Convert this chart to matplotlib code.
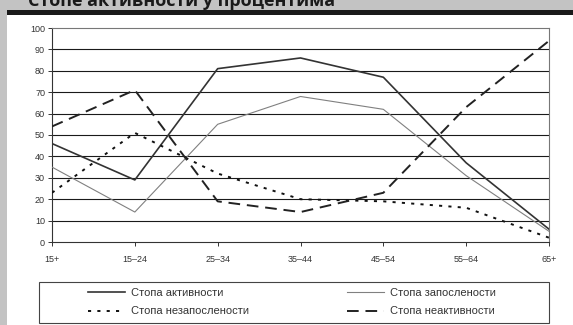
import matplotlib.pyplot as plt
from matplotlib.patches import Rectangle
from matplotlib.lines import Line2D

plt.rcParams['font.family'] = ['Liberation Sans', 'DejaVu Sans']

# age groups and rates (%)
groups = ['15+', '15–24', '25–34', '35–44', '45–54', '55–64', '65+']
activity = [46, 29, 81, 86, 77, 37, 6]
employment = [35, 14, 55, 68, 62, 31, 5]
unemployment = [23, 51, 32, 20, 19, 16, 2]
inactivity = [54, 71, 19, 14, 23, 63, 94]

labels = ['Стопа активности', 'Стопа запослености',
          'Стопа незапослености', 'Стопа неактивности']

W, H = 573, 325
fig = plt.figure(figsize=(W / 100, H / 100), dpi=100, facecolor='#c3c3c3')

def fx(px):
    return px / W

def fy(py):
    return 1 - py / H

# white panel and black rule under the header band
fig.patches.append(Rectangle((fx(7), 0), 1 - fx(7), fy(15), transform=fig.transFigure,
                             facecolor='white', edgecolor='none', zorder=0))
fig.patches.append(Rectangle((fx(7), fy(15)), 1 - fx(7), fy(10) - fy(15), transform=fig.transFigure,
                             facecolor='#1a1a1a', edgecolor='none', zorder=0))
fig.text(fx(28), fy(6), 'Стопе активности у процентима', fontsize=13, fontweight='bold',
         color='#1a1a1a', va='baseline', ha='left', family=['Open Sans', 'DejaVu Sans'])

ax = fig.add_axes([fx(52), fy(242), fx(549) - fx(52), fy(28) - fy(242)])
ax.set_zorder(3)
ax.set_facecolor('white')
x = list(range(len(groups)))

ax.plot(x, activity, color='#333333', lw=1.2, zorder=5)
ax.plot(x, employment, color='#808080', lw=0.8, zorder=5)
ax.plot(x, unemployment, color='#111111', lw=1.4, dashes=(1.6, 3.2), zorder=5)
ax.plot(x, inactivity, color='#222222', lw=1.4, dashes=(6, 3.5), zorder=5)

ax.set_xlim(0, len(groups) - 1)
ax.set_ylim(0, 100)
ax.set_yticks(range(0, 101, 10))
ax.set_xticks(x)
ax.set_xticklabels(groups)
for v in range(10, 100, 10):
    ax.axhline(v, color='#1a1a1a', lw=0.8, zorder=1)

for s in ['top', 'right']:
    ax.spines[s].set_color('#777777')
    ax.spines[s].set_linewidth(0.8)
for s in ['left', 'bottom']:
    ax.spines[s].set_color('#333333')
    ax.spines[s].set_linewidth(0.8)
ax.tick_params(axis='both', labelsize=6.5, labelcolor='#333333', color='#333333',
               length=3, width=0.7, direction='out')
ax.tick_params(axis='x', pad=6)
ax.tick_params(axis='y', pad=2)

# legend box across the bottom
fig.patches.append(Rectangle((fx(39), fy(323)), fx(549) - fx(39), fy(282) - fy(323),
                             transform=fig.transFigure, facecolor='white',
                             edgecolor='#444444', lw=0.8, zorder=1))
handles = [
    Line2D([], [], color='#333333', lw=1.2),
    Line2D([], [], color='#111111', lw=1.4, dashes=(1.6, 3.2)),
    Line2D([], [], color='#808080', lw=0.8),
    Line2D([], [], color='#222222', lw=1.4, dashes=(6, 3.5)),
]
leg = fig.legend(handles, [labels[0], labels[2], labels[1], labels[3]], ncol=2,
                 loc='center', bbox_to_anchor=(fx(292), fy(302)), frameon=False,
                 fontsize=8, handlelength=3.3, handletextpad=0.6,
                 columnspacing=8.8, labelspacing=0.8)
leg.set_zorder(4)
for t in leg.get_texts():
    t.set_color('#333333')

fig.savefig('out.png', dpi=100, facecolor=fig.get_facecolor())
